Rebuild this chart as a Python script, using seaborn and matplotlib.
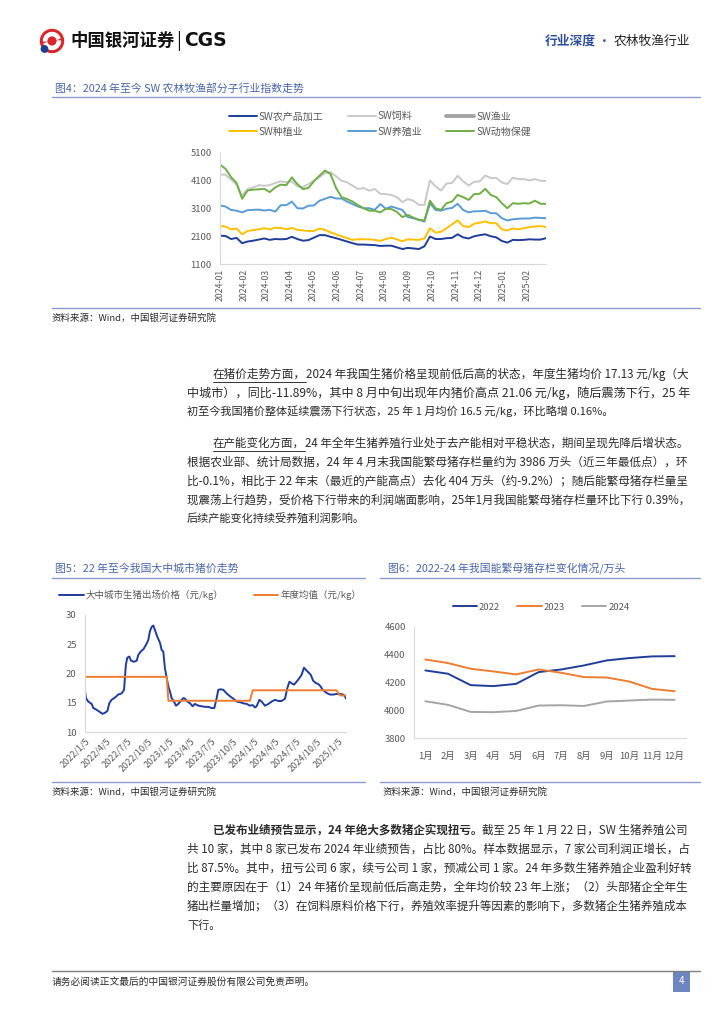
import numpy as np
import pandas as pd
import matplotlib
matplotlib.use('Agg')
import matplotlib.pyplot as plt
import matplotlib.dates as mdates
import seaborn as sns
from matplotlib.lines import Line2D
from matplotlib.patches import Rectangle, Circle, Wedge

sns.set_theme(style='white')
plt.rcParams['font.family'] = ['Noto Sans CJK SC', 'DejaVu Sans']
plt.rcParams['axes.unicode_minus'] = False

# ---------------- data: chart 4 (SW sub-industry indices, 2024-01 .. 2025-02) -------------
idx_start, idx_end, idx_n = '2024-01-01', '2025-02-26', 60
sw_agri_proc = [2120, 2110, 2000, 2040, 1850, 1910, 1940, 1980, 2020, 1970,
                2000, 1990, 2000, 2080, 2000, 1940, 1960, 2050, 2140, 2140,
                2080, 2030, 1970, 1910, 1850, 1800, 1800, 1790, 1780, 1750,
                1760, 1760, 1700, 1640, 1680, 1660, 1640, 1740, 2090, 2000,
                2000, 2030, 2040, 2170, 2060, 2020, 2100, 2140, 2170, 2100,
                2060, 1930, 1870, 1970, 1960, 1970, 1990, 1980, 1980, 2030]
sw_feed = [4320, 4320, 4140, 3960, 3570, 3800, 3860, 3940, 3920, 3940,
           4020, 4080, 4040, 4080, 3900, 3870, 3980, 4110, 4230, 4380,
           4410, 4260, 4100, 4040, 3920, 3800, 3840, 3740, 3800, 3630,
           3620, 3590, 3510, 3330, 3440, 3380, 3230, 3230, 4110, 3900,
           3750, 4000, 4020, 4280, 4080, 3930, 4060, 4080, 4290, 4200,
           4200, 4040, 3980, 4210, 4160, 4160, 4110, 4160, 4100, 4090]
sw_planting = [2470, 2450, 2350, 2380, 2170, 2290, 2320, 2350, 2390, 2350,
               2410, 2400, 2350, 2400, 2330, 2310, 2290, 2290, 2380, 2330,
               2240, 2170, 2100, 2030, 1970, 1990, 1990, 1990, 1970, 1930,
               2000, 2050, 1990, 1920, 1990, 1980, 1970, 2020, 2390, 2230,
               2260, 2390, 2530, 2670, 2470, 2430, 2550, 2590, 2630, 2570,
               2570, 2350, 2310, 2380, 2350, 2390, 2430, 2450, 2470, 2430]
sw_breeding = [3210, 3170, 3050, 3020, 2960, 3040, 3050, 3060, 3030, 3050,
               2990, 3220, 3220, 3350, 3110, 3100, 3200, 3210, 3380, 3450,
               3520, 3460, 3460, 3350, 3260, 3170, 3110, 3110, 3050, 3260,
               3090, 3170, 3110, 3050, 2790, 2750, 2690, 2630, 3290, 3050,
               3020, 3090, 3120, 3270, 3050, 2960, 3000, 3000, 3020, 2930,
               2930, 2750, 2670, 2710, 2730, 2740, 2740, 2770, 2760, 2750]
sw_animal_health = [4680, 4530, 4230, 4020, 3450, 3750, 3780, 3790, 3810, 3690,
                    3860, 3960, 3940, 4220, 3980, 3800, 3840, 4080, 4280, 4470,
                    4340, 3840, 3510, 3440, 3350, 3220, 3110, 3020, 3020, 2960,
                    3090, 3080, 2980, 2790, 2870, 2770, 2690, 2670, 3380, 3110,
                    3050, 3290, 3350, 3590, 3510, 3410, 3620, 3630, 3810, 3590,
                    3510, 3290, 3110, 3290, 3270, 3290, 3280, 3380, 3270, 3270]
idx_yticks = [1100, 2100, 3100, 4100, 5100]

# ---------------- data: chart 5 (pig price, yuan/kg) ----------------
price_dates = ['2022-01-05', '2022-01-09', '2022-01-19', '2022-02-03', '2022-02-10', '2022-02-24',
               '2022-03-11', '2022-03-22', '2022-04-02', '2022-04-12', '2022-04-20', '2022-04-30',
               '2022-05-15', '2022-05-29', '2022-06-13', '2022-06-23', '2022-07-01', '2022-07-07',
               '2022-07-16', '2022-07-23', '2022-08-05', '2022-08-17', '2022-08-24', '2022-09-03',
               '2022-09-15', '2022-09-26', '2022-10-06', '2022-10-13', '2022-10-21', '2022-10-28',
               '2022-11-04', '2022-11-14', '2022-11-26', '2022-12-03', '2022-12-10', '2022-12-17',
               '2022-12-25', '2023-01-01', '2023-01-08', '2023-01-15', '2023-01-25', '2023-02-03',
               '2023-02-13', '2023-02-23', '2023-03-07', '2023-03-14', '2023-03-24', '2023-04-05',
               '2023-04-16', '2023-04-26', '2023-05-11', '2023-05-25', '2023-06-08', '2023-06-23',
               '2023-07-07', '2023-07-19', '2023-07-29', '2023-08-05', '2023-08-15', '2023-08-27',
               '2023-09-10', '2023-09-25', '2023-10-09', '2023-10-24', '2023-11-07', '2023-11-21',
               '2023-12-06', '2023-12-20', '2024-01-01', '2024-01-11', '2024-01-18', '2024-01-30',
               '2024-02-09', '2024-02-23', '2024-03-09', '2024-03-23', '2024-04-07', '2024-04-21',
               '2024-05-05', '2024-05-20', '2024-05-30', '2024-06-08', '2024-06-18', '2024-06-28',
               '2024-07-09', '2024-07-21', '2024-07-31', '2024-08-10', '2024-08-19', '2024-08-29',
               '2024-09-08', '2024-09-19', '2024-10-01', '2024-10-11', '2024-10-21', '2024-10-30',
               '2024-11-09', '2024-11-19', '2024-12-01', '2024-12-15', '2024-12-29', '2025-01-13',
               '2025-01-27', '2025-02-04', '2025-02-08']
price_vals = [17.05, 15.8, 15.2, 14.8, 14.1, 13.8,
              13.4, 13.1, 13.3, 13.6, 14.9, 15.5,
              15.9, 16.4, 16.6, 17.2, 21.5, 22.7,
              22.9, 22.2, 22.0, 22.2, 23.2, 23.75,
              24.15, 24.9, 25.7, 27.2, 28.0, 28.2,
              27.4, 26.3, 25.2, 24.0, 23.75, 20.9,
              19.2, 17.8, 16.9, 15.8, 15.2, 14.5,
              14.8, 15.3, 15.8, 15.7, 15.2, 14.9,
              14.4, 14.8, 14.5, 14.4, 14.3, 14.3,
              14.1, 14.1, 15.8, 17.2, 17.3, 17.2,
              16.6, 16.1, 15.7, 15.2, 15.1, 14.9,
              14.8, 14.5, 14.6, 14.2, 14.4, 15.5,
              15.2, 14.5, 14.8, 15.2, 15.5, 15.3,
              15.3, 15.7, 17.5, 18.6, 18.3, 18.1,
              18.6, 19.2, 19.8, 21.0, 20.6, 20.2,
              19.8, 18.75, 18.35, 18.2, 17.8, 17.2,
              16.9, 16.6, 16.4, 16.4, 16.5, 16.5,
              16.4, 16.1, 15.7]
annual_years = [2022, 2023, 2024, 2025]
annual_avg = [19.43, 15.34, 17.13, 16.25]
price_tick_dates = ['2022-01-05', '2022-04-05', '2022-07-05', '2022-10-05', '2023-01-05',
                    '2023-04-05', '2023-07-05', '2023-10-05', '2024-01-05', '2024-04-05',
                    '2024-07-05', '2024-10-05', '2025-01-05']
price_tick_labels = ['2022/1/5', '2022/4/5', '2022/7/5', '2022/10/5', '2023/1/5',
                     '2023/4/5', '2023/7/5', '2023/10/5', '2024/1/5', '2024/4/5',
                     '2024/7/5', '2024/10/5', '2025/1/5']

# ---------------- data: chart 6 (breeding sows, 10k head) ----------------
months = ['1月', '2月', '3月', '4月', '5月', '6月', '7月', '8月', '9月', '10月', '11月', '12月']
sows_2022 = [4287, 4263, 4181, 4174, 4190, 4275, 4294, 4323, 4359, 4376, 4388, 4390]
sows_2023 = [4366, 4340, 4299, 4280, 4258, 4294, 4270, 4239, 4236, 4207, 4154, 4137]
sows_2024 = [4065, 4039, 3988, 3986, 3995, 4034, 4036, 4031, 4063, 4070, 4077, 4075]
sows_yticks = [3800, 4000, 4200, 4400, 4600]

# ---------------- figure helpers ----------------
W, H = 724, 1024
fig = plt.figure(figsize=(7.24, 10.24), dpi=100)
fig.patch.set_facecolor('white')
renderer = fig.canvas.get_renderer()


def fx(x):
    return x / W


def fy(y):
    return 1 - y / H


def T(x, y, s, **kw):
    kw.setdefault('va', 'center')
    kw.setdefault('ha', 'left')
    return fig.text(fx(x), fy(y), s, **kw)


def HL(x0, x1, y, color, lw=1.0):
    fig.add_artist(Line2D([fx(x0), fx(x1)], [fy(y), fy(y)], color=color, lw=lw,
                          transform=fig.transFigure))


def width_px(s, size, weight='normal', **kw):
    t = fig.text(0, 0, s, fontsize=size, fontweight=weight, **kw)
    w = t.get_window_extent(renderer).width
    t.remove()
    return w


TXT = '#2b2b2b'
TITLE_C = '#4a66a8'
RULE_C = '#8a9ccc'
AX_TXT = '#595959'
SPINE_C = '#d9d9d9'


def style_ax(ax):
    sns.despine(ax=ax)
    for sp in ['left', 'bottom']:
        ax.spines[sp].set_color(SPINE_C)
        ax.spines[sp].set_linewidth(0.8)
    ax.tick_params(axis='both', length=0, colors=AX_TXT, labelsize=6.8)
    ax.set_xlabel('')
    ax.set_ylabel('')
    ax.grid(False)
    ax.set_facecolor('white')


# ---------------- header ----------------
ax_logo = fig.add_axes([fx(38), fy(55), 28 / W, 28 / H])
ax_logo.set_xlim(0, 28)
ax_logo.set_ylim(0, 28)
ax_logo.axis('off')
ax_logo.add_patch(Circle((14, 14), 11.5, color='#d7262c'))
ax_logo.add_patch(Wedge((14, 14), 8.5, 200, 360, width=3.2, color='white'))
ax_logo.add_patch(Wedge((14, 14), 8.5, 20, 180, width=3.2, color='white'))
ax_logo.add_patch(Circle((6.5, 6.0), 3.2, color='#1d3f8f'))

xh = 70
T(xh, 41, '中国银河证券', fontsize=12.5, fontweight='bold', color='#111111')
xh += width_px('中国银河证券', 12.5, 'bold') + 2
T(xh, 41, '|', fontsize=13, color='#111111')
xh += width_px('|', 13) + 3
T(xh, 41, 'CGS', fontsize=13.5, fontweight='bold', color='#111111', family=['DejaVu Sans'])

xr = 545
T(xr, 41, '行业深度', fontsize=9.2, color='#2f4f9a', fontweight='bold')
xr += width_px('行业深度', 9.2, 'bold') + 2
T(xr, 41, '·', fontsize=9.2, color='#2f4f9a')
xr += width_px('·', 9.2) + 3
T(xr, 41, '农林牧渔行业', fontsize=9.2, color='#222222')

# ---------------- chart 4 ----------------
T(55, 88, '图4：2024 年至今 SW 农林牧渔部分子行业指数走势', fontsize=7.8, color=TITLE_C)
HL(52, 700, 97, RULE_C, 1.0)
HL(52, 700, 308, RULE_C, 1.0)
T(52, 318, '资料来源：Wind，中国银河证券研究院', fontsize=6.8, color=TXT, style='italic')

ax4 = fig.add_axes([fx(220), fy(264), (546 - 220) / W, (264 - 153) / H])
d4 = pd.date_range(idx_start, idx_end, periods=idx_n)
series4 = [('SW农产品加工', sw_agri_proc, '#1f3d99', 1.4),
           ('SW饲料', sw_feed, '#c9c9c9', 1.4),
           ('SW种植业', sw_planting, '#ffc000', 1.4),
           ('SW养殖业', sw_breeding, '#5b9bd5', 1.4),
           ('SW动物保健', sw_animal_health, '#70ad47', 1.4)]
for name, vals, col, lw in series4:
    sns.lineplot(x=d4, y=vals, ax=ax4, color=col, lw=lw, legend=False)
style_ax(ax4)
ax4.set_ylim(1100, 5100)
ax4.set_yticks(idx_yticks)
ax4.set_xlim(d4[0], d4[-1])
ax4.xaxis.set_major_locator(mdates.MonthLocator())
ax4.xaxis.set_major_formatter(mdates.DateFormatter('%Y-%m'))
for lab in ax4.get_xticklabels():
    lab.set_rotation(90)
    lab.set_fontsize(6.3)
ax4.tick_params(axis='y', pad=6)

h = {n: Line2D([], [], color=c, lw=lw) for n, _, c, lw in series4}
h['SW渔业'] = Line2D([], [], color='#a5a5a5', lw=2.8)
order = ['SW农产品加工', 'SW种植业', 'SW饲料', 'SW养殖业', 'SW渔业', 'SW动物保健']
fig.legend([h[k] for k in order], order, loc='center', ncol=3,
           bbox_to_anchor=(fx(380), fy(124)), frameon=False, fontsize=7.2,
           handlelength=2.8, columnspacing=2.4, labelspacing=0.5,
           labelcolor=AX_TXT, handletextpad=0.2)

# ---------------- paragraphs ----------------
X_LEFT, X_RIGHT, INDENT = 187, 690, 213
BASE = 8.0


def draw_line(x0, y, segs, justify=True):
    natural = sum(width_px(s, BASE, 'bold' if st == 'b' else 'normal') for s, st in segs)
    size = BASE
    if justify:
        size = BASE * (X_RIGHT - x0) / natural
        size = max(BASE * 0.9, min(BASE * 1.1, size))
    x = x0
    for s, st in segs:
        wt = 'bold' if st == 'b' else 'normal'
        T(x, y, s, fontsize=size, fontweight=wt, color=TXT)
        w = width_px(s, size, wt)
        if st == 'u':
            HL(x, x + w, y + 8, '#333333', 0.7)
        x += w


para1 = [[('在猪价走势方面，', 'u'), ('2024 年我国生猪价格呈现前低后高的状态，年度生猪均价 17.13 元/kg（大', 'n')],
         [('中城市），同比-11.89%，其中 8 月中旬出现年内猪价高点 21.06 元/kg，随后震荡下行，25 年', 'n')],
         [('初至今我国猪价整体延续震荡下行状态，25 年 1 月均价 16.5 元/kg，环比略增 0.16%。', 'n')]]
para2 = [[('在产能变化方面，', 'u'), ('24 年全年生猪养殖行业处于去产能相对平稳状态，期间呈现先降后增状态。', 'n')],
         [('根据农业部、统计局数据，24 年 4 月末我国能繁母猪存栏量约为 3986 万头（近三年最低点），环', 'n')],
         [('比-0.1%，相比于 22 年末（最近的产能高点）去化 404 万头（约-9.2%）；随后能繁母猪存栏量呈', 'n')],
         [('现震荡上行趋势，受价格下行带来的利润端面影响，25年1月我国能繁母猪存栏量环比下行 0.39%，', 'n')],
         [('后续产能变化持续受养殖利润影响。', 'n')]]
para3 = [[('已发布业绩预告显示，24 年绝大多数猪企实现扭亏。', 'b'), ('截至 25 年 1 月 22 日，SW 生猪养殖公司', 'n')],
         [('共 10 家，其中 8 家已发布 2024 年业绩预告，占比 80%。样本数据显示，7 家公司利润正增长，占', 'n')],
         [('比 87.5%。其中，扭亏公司 6 家，续亏公司 1 家，预减公司 1 家。24 年多数生猪养殖企业盈利好转', 'n')],
         [('的主要原因在于（1）24 年猪价呈现前低后高走势，全年均价较 23 年上涨；（2）头部猪企全年生', 'n')],
         [('猪出栏量增加；（3）在饲料原料价格下行，养殖效率提升等因素的影响下，多数猪企生猪养殖成本', 'n')],
         [('下行。', 'n')]]


def draw_para(lines, y0, step=19.1):
    for i, segs in enumerate(lines):
        x0 = INDENT if i == 0 else X_LEFT
        draw_line(x0, y0 + i * step, segs, justify=(i < len(lines) - 1))


draw_para(para1, 374)
draw_para(para2, 443)
draw_para(para3, 830)

# ---------------- chart 5 ----------------
T(55, 568, '图5：22 年至今我国大中城市猪价走势', fontsize=7.8, color=TITLE_C)
HL(52, 365, 578, RULE_C, 1.0)
HL(52, 365, 782, RULE_C, 1.0)
T(52, 792, '资料来源：Wind，中国银河证券研究院', fontsize=6.8, color=TXT, style='italic')

ax5 = fig.add_axes([fx(85), fy(732), (346 - 85) / W, (732 - 615) / H])
d5 = pd.to_datetime(price_dates)
avg_map = dict(zip(annual_years, annual_avg))
avg_line = [avg_map[d.year] for d in d5]
sns.lineplot(x=d5, y=price_vals, ax=ax5, color='#1f3d99', lw=1.4, legend=False)
sns.lineplot(x=d5, y=avg_line, ax=ax5, color='#ed7d31', lw=1.4, legend=False)
style_ax(ax5)
ax5.set_ylim(10, 30)
ax5.set_yticks([10, 15, 20, 25, 30])
ax5.set_xlim(d5[0], d5[-1])
ax5.set_xticks(pd.to_datetime(price_tick_dates))
ax5.set_xticklabels(price_tick_labels, rotation=45, ha='right', rotation_mode='anchor', fontsize=6.5)
ax5.tick_params(axis='y', pad=6)
fig.legend([Line2D([], [], color='#1f3d99', lw=1.4), Line2D([], [], color='#ed7d31', lw=1.4)],
           ['大中城市生猪出场价格（元/kg）', '年度均值（元/kg）'], loc='center', ncol=2,
           bbox_to_anchor=(fx(210), fy(595)), frameon=False, fontsize=6.8,
           handlelength=2.6, columnspacing=3.2, labelcolor=AX_TXT, handletextpad=0.2)

# ---------------- chart 6 ----------------
T(388, 569, '图6：2022-24 年我国能繁母猪存栏变化情况/万头', fontsize=7.8, color=TITLE_C)
HL(380, 700, 578, RULE_C, 1.0)
HL(380, 700, 782, RULE_C, 1.0)
T(382, 792, '资料来源：Wind，中国银河证券研究院', fontsize=6.8, color=TXT, style='italic')

ax6 = fig.add_axes([fx(414), fy(738), (686 - 414) / W, (738 - 627) / H])
xm = np.arange(len(months))
sns.lineplot(x=xm, y=sows_2022, ax=ax6, color='#1f3d99', lw=1.4, legend=False)
sns.lineplot(x=xm, y=sows_2023, ax=ax6, color='#ed7d31', lw=1.4, legend=False)
sns.lineplot(x=xm, y=sows_2024, ax=ax6, color='#a5a5a5', lw=1.4, legend=False)
style_ax(ax6)
ax6.set_ylim(3800, 4600)
ax6.set_yticks(sows_yticks)
ax6.set_xlim(-0.5, len(months) - 0.5)
ax6.set_xticks(xm)
ax6.set_xticklabels(months, fontsize=6.8)
ax6.tick_params(axis='x', pad=10)
ax6.tick_params(axis='y', pad=6)
fig.legend([Line2D([], [], color=c, lw=1.4) for c in ['#1f3d99', '#ed7d31', '#a5a5a5']],
           ['2022', '2023', '2024'], loc='center', ncol=3,
           bbox_to_anchor=(fx(541), fy(607)), frameon=False, fontsize=6.8,
           handlelength=2.6, columnspacing=1.8, labelcolor=AX_TXT, handletextpad=0.2)

# ---------------- footer ----------------
HL(52, 700, 971, '#7f7f7f', 1.0)
T(52, 982, '请务必阅读正文最后的中国银河证券股份有限公司免责声明。', fontsize=7, color=TXT)
fig.add_artist(Rectangle((fx(673), fy(992)), 17 / W, 21 / H, transform=fig.transFigure,
                         facecolor='#6d86bf', edgecolor='none'))
T(681.5, 981, '4', fontsize=7, color='white', ha='center')

fig.savefig('out.png', dpi=100, facecolor='white')
